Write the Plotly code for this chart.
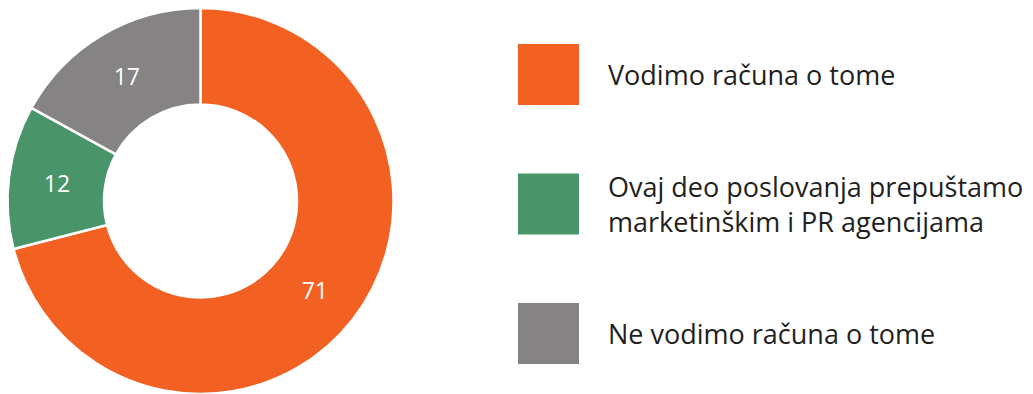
import plotly.graph_objects as go

# Survey shares (percent)
categories = [
    "Vodimo računa o tome",
    "Ovaj deo poslovanja prepuštamo<br>marketinškim i PR agencijama",
    "Ne vodimo računa o tome",
]
values = [71, 12, 17]
colors = ["#F26122", "#4A9469", "#858383"]

W, H = 1033, 394
font_family = "Open Sans, sans-serif"

fig = go.Figure(
    go.Pie(
        labels=categories,
        values=values,
        text=[str(v) for v in values],
        textinfo="text",
        textposition="inside",
        insidetextorientation="horizontal",
        textfont=dict(color="white", size=23, family=font_family),
        marker=dict(colors=colors, line=dict(color="white", width=2.5)),
        hole=0.5,
        sort=False,
        direction="clockwise",
        rotation=0,
        domain=dict(x=[7.5 / W, 393.5 / W], y=[0, 0.98]),
        showlegend=False,
        hoverinfo="label+value",
    )
)

# Legend drawn as large swatches with labels beside them
shapes, annotations = [], []
sw_left, sw_size, first_top, step = 518, 61, 44, 129.5
for i, (label, color) in enumerate(zip(categories, colors)):
    top = first_top + i * step
    shapes.append(dict(
        type="rect", xref="paper", yref="paper",
        x0=sw_left / W, x1=(sw_left + sw_size) / W,
        y0=1 - (top + sw_size) / H, y1=1 - top / H,
        fillcolor=color, line=dict(width=0),
    ))
    annotations.append(dict(
        xref="paper", yref="paper",
        x=606 / W, y=1 - (top + sw_size / 2) / H,
        xanchor="left", yanchor="middle", align="left",
        text=label, showarrow=False,
        font=dict(size=27, color="#231F20", family=font_family),
    ))

fig.update_layout(
    width=W, height=H,
    margin=dict(l=0, r=0, t=0, b=0),
    paper_bgcolor="white", plot_bgcolor="white",
    shapes=shapes, annotations=annotations,
)

fig.write_html("out.html")
